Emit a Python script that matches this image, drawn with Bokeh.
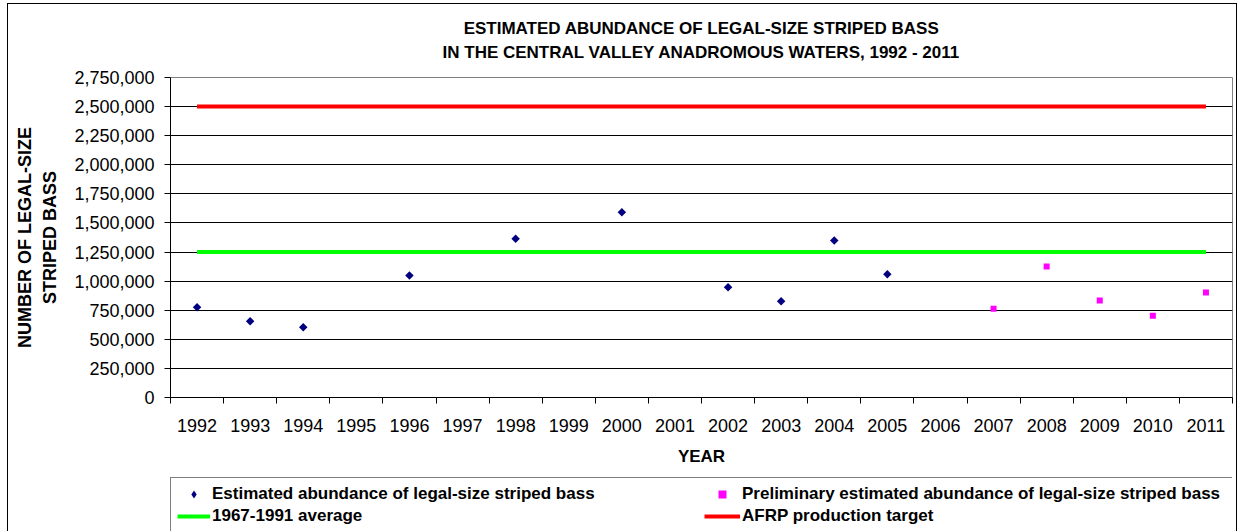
import math
from bokeh.plotting import figure
from bokeh.layouts import column
from bokeh.models import Range1d, FixedTicker, NumeralTickFormatter, Legend, LegendItem, Title
from bokeh.embed import file_html
from bokeh.resources import INLINE

# ---- data ----
years = list(range(1992, 2012))
year_labels = [str(y) for y in years]

est_years = [1992, 1993, 1994, 1996, 1998, 2000, 2002, 2003, 2004, 2005]
est_vals = [776000, 656000, 604000, 1048000, 1364000, 1592000, 948000, 828000, 1349000, 1060000]

pre_years = [2007, 2008, 2009, 2010, 2011]
pre_vals = [762000, 1126000, 834000, 702000, 902000]

avg_1967_1991 = [1250000] * len(years)
afrp_target = [2500000] * len(years)

y_ticks = list(range(0, 2750001, 250000))

title_lines = ["ESTIMATED ABUNDANCE OF LEGAL-SIZE STRIPED BASS",
               "IN THE CENTRAL VALLEY ANADROMOUS WATERS, 1992 - 2011"]
legend_labels = ["Estimated abundance of legal-size striped bass",
                 "Preliminary estimated abundance of legal-size striped bass",
                 "1967-1991 average",
                 "AFRP production target"]

FONT = "Liberation Sans"
W = 1237

p = figure(width=W, height=477, output_backend="svg", toolbar_location=None, tools="",
           title=None,
           x_range=Range1d(1991.5, 2011.5), y_range=Range1d(0, 2750000),
           min_border_left=170, min_border_right=5, min_border_top=77, min_border_bottom=80,
           border_fill_color=None, background_fill_color="white",
           outline_line_color="#808080", outline_line_width=1)

# title lines (line 2 added first: closest to the frame)
t2 = Title(text=title_lines[1], align="center", vertical_align="top", text_font=FONT,
           text_font_style="bold", text_font_size="17px", text_color="black", standoff=27)
t1 = Title(text=title_lines[0], align="center", text_font=FONT, text_font_style="bold",
           text_font_size="17px", text_color="black", standoff=-17)
p.add_layout(t2, "above")
p.add_layout(t1, "above")

# grid
p.xgrid.visible = False
p.ygrid.ticker = FixedTicker(ticks=y_ticks[1:-1])
p.ygrid.grid_line_color = "black"
p.ygrid.grid_line_width = 1

# y axis
p.yaxis.ticker = FixedTicker(ticks=y_ticks)
p.yaxis.formatter = NumeralTickFormatter(format="0,0")
p.yaxis.major_tick_out = 6
p.yaxis.major_tick_in = 0
p.yaxis.minor_tick_line_color = None
p.yaxis.axis_line_color = "black"
p.yaxis.major_tick_line_color = "black"
p.yaxis.major_label_standoff = 10
p.yaxis.major_label_text_font = FONT
p.yaxis.major_label_text_font_size = "18px"
p.yaxis.major_label_text_color = "black"
p.yaxis.axis_label = "NUMBER OF LEGAL-SIZE\nSTRIPED BASS"
p.yaxis.axis_label_text_font = FONT
p.yaxis.axis_label_text_font_style = "bold"
p.yaxis.axis_label_text_font_size = "18px"
p.yaxis.axis_label_text_line_height = 1.28
p.yaxis.axis_label_text_color = "black"
p.yaxis.axis_label_standoff = 11

# x axis
p.xaxis.ticker = FixedTicker(ticks=years, minor_ticks=[y - 0.5 for y in years] + [years[-1] + 0.5])
p.xaxis.major_label_overrides = {y: lab for y, lab in zip(years, year_labels)}
p.xaxis.major_tick_out = 6
p.xaxis.major_tick_in = 0
p.xaxis.major_tick_line_color = None
p.xaxis.minor_tick_out = 6
p.xaxis.minor_tick_in = 0
p.xaxis.minor_tick_line_color = "black"
p.xaxis.axis_line_color = "black"
p.xaxis.major_label_standoff = 15
p.xaxis.major_label_text_font = FONT
p.xaxis.major_label_text_font_size = "18px"
p.xaxis.major_label_text_color = "black"
p.xaxis.axis_label = "YEAR"
p.xaxis.axis_label_text_font = FONT
p.xaxis.axis_label_text_font_style = "bold"
p.xaxis.axis_label_text_font_size = "17px"
p.xaxis.axis_label_text_color = "black"
p.xaxis.axis_label_standoff = 12

# series
def draw(fig, est_marker="square", est_angle=math.pi / 4, est_size=6):
    r_avg = fig.line(years, avg_1967_1991, line_color="#00FF00", line_width=4)
    r_afrp = fig.line(years, afrp_target, line_color="#FF0000", line_width=4)
    r_est = fig.scatter(est_years, est_vals, marker=est_marker, angle=est_angle, size=est_size,
                        fill_color="#000080", line_color=None)
    r_pre = fig.scatter(pre_years, pre_vals, marker="square", size=6,
                        fill_color="#FF00FF", line_color=None)
    return r_est, r_pre, r_avg, r_afrp

draw(p)

# legend strip below the chart (its own figure; the series lie outside its ranges)
p2 = figure(width=W, height=54, output_backend="svg", toolbar_location=None, tools="",
            title=None, x_axis_location=None, y_axis_location=None,
            x_range=Range1d(1991.5, 2011.5), y_range=Range1d(-2, -1),
            min_border=0, border_fill_color=None, background_fill_color=None,
            outline_line_color=None)
p2.grid.visible = False
l_est, l_pre, l_avg, l_afrp = draw(p2, est_marker="diamond", est_angle=0, est_size=10)

common = dict(orientation="vertical", glyph_height=20, label_height=20,
              label_standoff=2, spacing=2, padding=6, margin=0,
              label_text_font=FONT, label_text_font_style="bold",
              label_text_font_size="17px", label_text_color="black")

leg1 = Legend(items=[LegendItem(label=legend_labels[0], renderers=[l_est]),
                     LegendItem(label=legend_labels[2], renderers=[l_avg])],
              location=(0, -2), glyph_width=33, label_width=1014,
              border_line_color="black", border_line_width=1,
              background_fill_color="white", background_fill_alpha=1.0, **common)
leg2 = Legend(items=[LegendItem(label=legend_labels[1], renderers=[l_pre]),
                     LegendItem(label=legend_labels[3], renderers=[l_afrp])],
              location=(534, 5), glyph_width=36, label_width=20,
              border_line_color=None, background_fill_alpha=0.0, **common)
p2.add_layout(leg1, "center")
p2.add_layout(leg2, "center")

layout = column(p, p2, spacing=0,
                styles={"box-shadow": "inset 7px 3px 0 0 #ffffff, inset 8px 4px 0 0 #000000, inset -1px 0 0 0 #000000"})

open("out.html", "w").write(file_html(layout, INLINE))
